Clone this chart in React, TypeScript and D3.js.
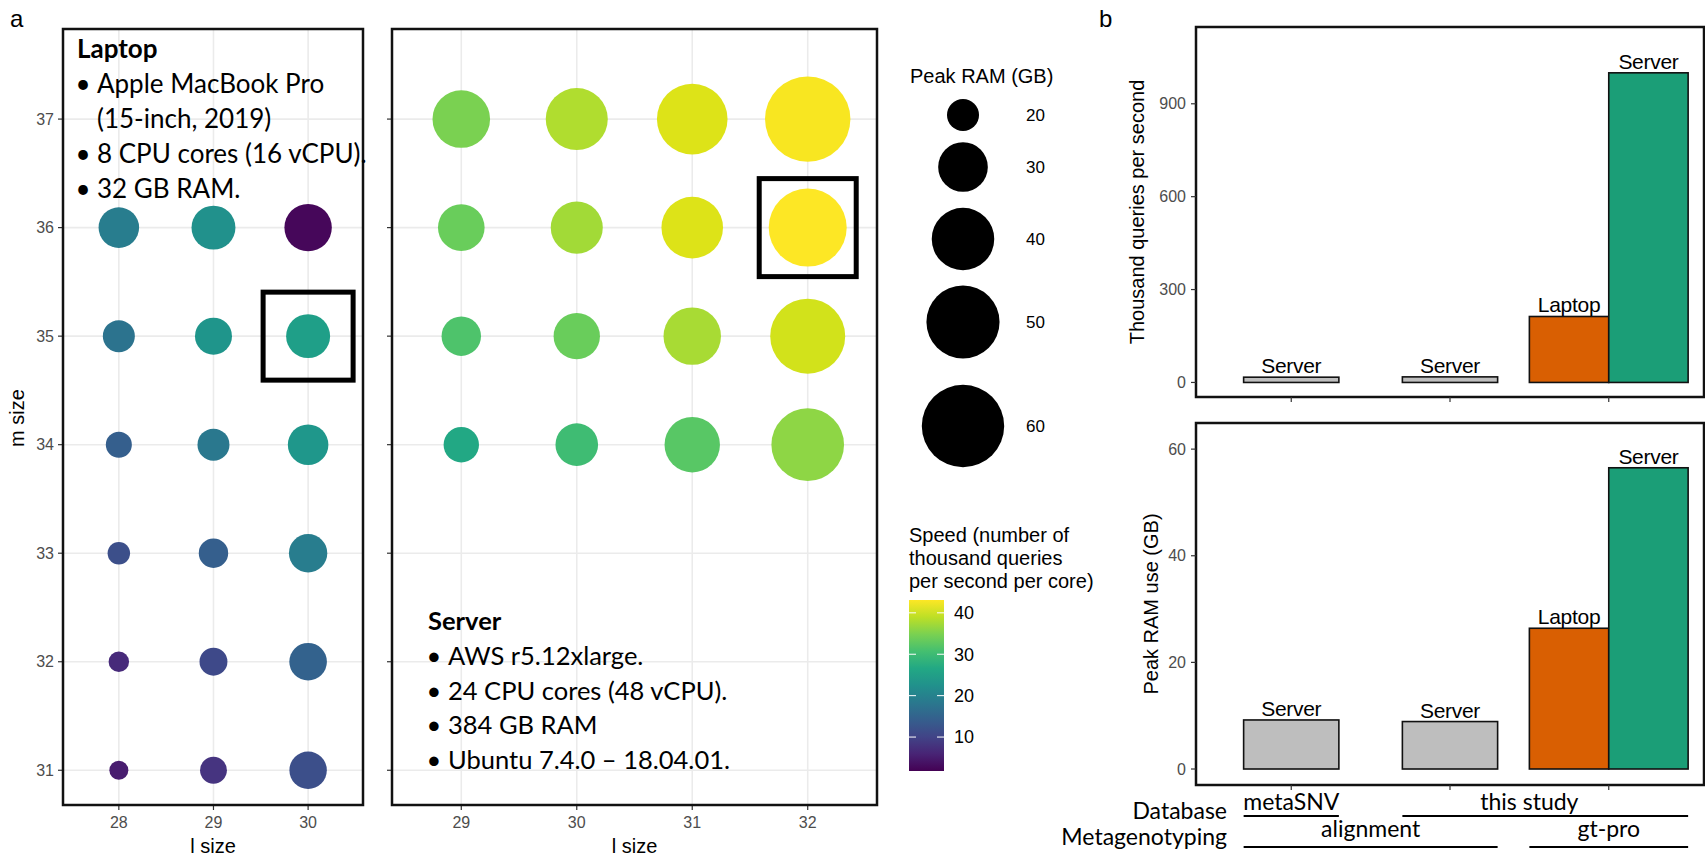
import React from "react";
import * as d3 from "d3";

// panel a: laptop grid (rows = m size, cols = l size)
const laptopL = [28, 29, 30];
const laptopM = [31, 32, 33, 34, 35, 36];
const laptopRam = [
  [15.4, 17.9, 22.6],
  [15.8, 18.3, 22.7],
  [16.4, 18.9, 23.1],
  [17.6, 20.0, 24.3],
  [20.0, 22.4, 26.3],
  [24.3, 26.3, 28.5],
];
const laptopSpeed = [
  [5.1, 8.0, 11.7],
  [6.8, 10.9, 14.6],
  [11.7, 14.2, 19.2],
  [14.2, 18.3, 23.7],
  [17.5, 23.3, 25.0],
  [19.2, 22.5, 2.6],
];

// panel a: server grid
const serverL = [29, 30, 31, 32];
const serverM = [34, 35, 36, 37];
const serverRam = [
  [21.6, 25.5, 34.2, 49.5],
  [23.7, 27.8, 35.8, 51.9],
  [28.0, 31.7, 39.2, 55.1],
  [35.9, 39.6, 47.5, 63.5],
];
const serverSpeed = [
  [26.6, 30.3, 32.4, 36.1],
  [31.5, 33.6, 37.7, 40.2],
  [33.6, 37.3, 41.0, 43.1],
  [34.8, 38.1, 41.0, 42.7],
];

const mTicks = [31, 32, 33, 34, 35, 36, 37];
const ramLegend = [20, 30, 40, 50, 60];
const speedTicks = [10, 20, 30, 40];
const laptopPick = { l: 30, m: 35 };
const serverPick = { l: 32, m: 36 };

const laptopNotes = ["Apple MacBook Pro", "(15-inch, 2019)", "8 CPU cores (16 vCPU).", "32 GB RAM."];
const laptopBullets = [true, false, true, true];
const serverNotes = ["AWS r5.12xlarge.", "24 CPU cores (48 vCPU).", "384 GB RAM", "Ubuntu 7.4.0 \u2013 18.04.01."];

// panel b
const barGroup = [0, 1, 2, 2];
const barMachine = ["Server", "Server", "Laptop", "Server"];
const barQps = [17, 18, 213, 1000];
const barRam = [9.2, 8.9, 26.4, 56.5];
const barKind = ["other", "other", "laptop", "server"];
const qpsTicks = [0, 300, 600, 900];
const ramTicks = [0, 20, 40, 60];
const dbLabels = ["metaSNV", "this study"];
const dbSpan = [[0, 0], [1, 2]];
const methodLabels = ["alignment", "gt-pro"];
const methodSpan = [[0, 1], [2, 2]];

const fillOf: Record<string, string> = { other: "#bebebe", laptop: "#d95f02", server: "#1b9e77" };
const AX = "Liberation Sans, Arial, Helvetica, sans-serif";
const TXT = "Lato, Open Sans, sans-serif";

const speedColor = d3.scaleSequential(d3.interpolateViridis).domain([1.8, 43.1]);
const radius = d3.scaleRadial().domain([20, 60]).range([16, 41.2]);
const yM = d3.scaleLinear().domain([30.68, 37.83]).range([805, 29]);
const xLap = d3.scaleLinear().domain([27.41, 30.58]).range([63, 363]);
const xSrv = d3.scaleLinear().domain([28.4, 32.6]).range([392, 877]);

function Grid({ x, ls, showLabels }: any) {
  const [x0, x1] = x.range();
  const [y1, y0] = yM.range();
  return (
    <g>
      {mTicks.map((m) => (
        <line key={"h" + m} x1={x0} x2={x1} y1={yM(m)} y2={yM(m)} stroke="#ebebeb" strokeWidth={1.6} />
      ))}
      {ls.map((l: number) => (
        <line key={"v" + l} x1={x(l)} x2={x(l)} y1={y0} y2={y1} stroke="#ebebeb" strokeWidth={1.6} />
      ))}
      {mTicks.map((m) => (
        <g key={"yt" + m}>
          <line x1={x0 - 5} x2={x0} y1={yM(m)} y2={yM(m)} stroke="#333" strokeWidth={1.2} />
          {showLabels && (
            <text x={x0 - 9} y={yM(m)} dy="0.35em" textAnchor="end" fontSize={16} fill="#4d4d4d" fontFamily={AX}>
              {m}
            </text>
          )}
        </g>
      ))}
      {ls.map((l: number) => (
        <g key={"xt" + l}>
          <line x1={x(l)} x2={x(l)} y1={y1} y2={y1 + 5} stroke="#333" strokeWidth={1.2} />
          <text x={x(l)} y={828} textAnchor="middle" fontSize={16} fill="#4d4d4d" fontFamily={AX}>
            {l}
          </text>
        </g>
      ))}
      <text x={(x0 + x1) / 2} y={853} textAnchor="middle" fontSize={20} fontFamily={AX}>
        l size
      </text>
    </g>
  );
}

function Dots({ x, ls, ms, ram, speed }: any) {
  return (
    <g>
      {ms.map((m: number, i: number) =>
        ls.map((l: number, j: number) => (
          <circle key={m + "-" + l} cx={x(l)} cy={yM(m)} r={radius(ram[i][j])} fill={speedColor(speed[i][j])} />
        ))
      )}
    </g>
  );
}

function Notes({ title, lines, bullets, x, y, size, gap }: any) {
  return (
    <g fontFamily={TXT} fontSize={size}>
      <text x={x} y={y} fontWeight="bold">{title}</text>
      {lines.map((t: string, i: number) => (
        <g key={t}>
          {bullets[i] && (
            <text x={x + 6} y={y + gap * (i + 1)} textAnchor="middle">{"\u2022"}</text>
          )}
          <text x={x + 20} y={y + gap * (i + 1)}>{t}</text>
        </g>
      ))}
    </g>
  );
}

const xBar = d3.scaleLinear().domain([-0.6, 2.6]).range([1196, 1704]);
const barOffset = [0, 0, -0.25, 0.25];
const barWidth = [0.6, 0.6, 0.5, 0.5];
const groupHalf = [0.3, 0.3, 0.5];

function BarPanel({ values, y, ticks, title, titleX }: any) {
  const [x0, x1] = xBar.range();
  const [yb, yt] = y.range();
  return (
    <g>
      <rect x={x0} y={yt} width={x1 - x0} height={yb - yt} fill="none" stroke="#111" strokeWidth={2.5} />
      {values.map((v: number, i: number) => {
        const c = barGroup[i] + barOffset[i];
        const left = xBar(c - barWidth[i] / 2);
        const right = xBar(c + barWidth[i] / 2);
        return (
          <g key={i}>
            <rect x={left} y={y(v)} width={right - left} height={y(0) - y(v)} fill={fillOf[barKind[i]]} stroke="#111" strokeWidth={1.6} />
            <text x={xBar(c)} y={y(v) - 4} textAnchor="middle" fontSize={21} fontFamily={AX} letterSpacing={-0.3}>
              {barMachine[i]}
            </text>
          </g>
        );
      })}
      {ticks.map((t: number) => (
        <g key={t}>
          <line x1={x0 - 5} x2={x0} y1={y(t)} y2={y(t)} stroke="#333" strokeWidth={1.2} />
          <text x={x0 - 10} y={y(t)} dy="0.35em" textAnchor="end" fontSize={16} fill="#4d4d4d" fontFamily={AX}>
            {t}
          </text>
        </g>
      ))}
      {[0, 1, 2].map((g) => (
        <line key={g} x1={xBar(g)} x2={xBar(g)} y1={yb} y2={yb + 5} stroke="#333" strokeWidth={1.2} />
      ))}
      <text transform={`translate(${titleX},${(yb + yt) / 2}) rotate(-90)`} textAnchor="middle" fontSize={20} fontFamily={AX}>
        {title}
      </text>
    </g>
  );
}

export default function App() {
  const qpsY = d3.scaleLinear().domain([-47, 1148]).range([397, 27]);
  const ramY = d3.scaleLinear().domain([-3, 64.9]).range([785, 423]);
  const gradStops = d3.range(0, 1.0001, 0.1);
  const cbY = d3.scaleLinear().domain([1.8, 43.1]).range([771, 600]);
  const span = (s: number[]) => [xBar(s[0] - groupHalf[s[0]]), xBar(s[1] + groupHalf[s[1]])];
  const mid = (s: number[]) => xBar((s[0] + s[1]) / 2);

  return (
    <div style={{ position: "absolute", left: 0, top: 0 }}>
      <svg width={1705} height={859} style={{ display: "block", background: "#fff" }}>
        <defs>
          <linearGradient id="viridis" x1="0" y1="1" x2="0" y2="0">
            {gradStops.map((t) => (
              <stop key={t} offset={t} stopColor={d3.interpolateViridis(t)} />
            ))}
          </linearGradient>
        </defs>

        <text x={10} y={27} fontSize={24} fontFamily={AX}>a</text>
        <text x={1099} y={27} fontSize={24} fontFamily={AX}>b</text>

        {/* laptop panel */}
        <Grid x={xLap} ls={laptopL} showLabels={true} />
        <Dots x={xLap} ls={laptopL} ms={laptopM} ram={laptopRam} speed={laptopSpeed} />
        <rect x={xLap(laptopPick.l) - 45} y={yM(laptopPick.m) - 44} width={90} height={88} fill="none" stroke="#000" strokeWidth={5} />
        <rect x={63} y={29} width={300} height={776} fill="none" stroke="#111" strokeWidth={2.5} />
        <Notes title="Laptop" lines={laptopNotes} bullets={laptopBullets} x={77} y={58} size={26} gap={35} />
        <text transform="translate(24,418) rotate(-90)" textAnchor="middle" fontSize={20} fontFamily={AX}>m size</text>

        {/* server panel */}
        <Grid x={xSrv} ls={serverL} showLabels={false} />
        <Dots x={xSrv} ls={serverL} ms={serverM} ram={serverRam} speed={serverSpeed} />
        <rect x={xSrv(serverPick.l) - 48.5} y={yM(serverPick.m) - 49} width={97} height={98} fill="none" stroke="#000" strokeWidth={5} />
        <rect x={392} y={29} width={485} height={776} fill="none" stroke="#111" strokeWidth={2.5} />
        <Notes title="Server" lines={serverNotes} bullets={[true, true, true, true]} x={428} y={630} size={25.5} gap={34.8} />

        {/* size legend */}
        <text x={910} y={83} fontSize={20} fontFamily={AX}>Peak RAM (GB)</text>
        {ramLegend.map((v, i) => {
          const cy = [115, 167, 239, 322, 426][i];
          return (
            <g key={v}>
              <circle cx={963} cy={cy} r={radius(v)} fill="#000" />
              <text x={1026} y={cy} dy="0.35em" fontSize={17} fontFamily={AX}>{v}</text>
            </g>
          );
        })}

        {/* colour legend */}
        {["Speed (number of", "thousand queries", "per second per core)"].map((t, i) => (
          <text key={t} x={909} y={542 + 23 * i} fontSize={20} fontFamily={AX}>{t}</text>
        ))}
        <rect x={909} y={600} width={35} height={171} fill="url(#viridis)" />
        {speedTicks.map((t) => (
          <g key={t}>
            <line x1={909} x2={916} y1={cbY(t)} y2={cbY(t)} stroke="#fff" strokeWidth={1} />
            <line x1={937} x2={944} y1={cbY(t)} y2={cbY(t)} stroke="#fff" strokeWidth={1} />
            <text x={954} y={cbY(t)} dy="0.35em" fontSize={18} fontFamily={AX}>{t}</text>
          </g>
        ))}

        {/* panel b */}
        <BarPanel values={barQps} y={qpsY} ticks={qpsTicks} title="Thousand queries per second" titleX={1144} />
        <BarPanel values={barRam} y={ramY} ticks={ramTicks} title="Peak RAM use (GB)" titleX={1158} />

        <g fontFamily={TXT} fontSize={23}>
          <text x={1227} y={819} textAnchor="end">Database</text>
          <text x={1227} y={845} textAnchor="end">Metagenotyping</text>
          {dbLabels.map((t, i) => {
            const [a, b] = span(dbSpan[i]);
            return (
              <g key={t}>
                <text x={mid(dbSpan[i])} y={810} textAnchor="middle">{t}</text>
                <line x1={a} x2={b} y1={816} y2={816} stroke="#000" strokeWidth={2} />
              </g>
            );
          })}
          {methodLabels.map((t, i) => {
            const [a, b] = span(methodSpan[i]);
            return (
              <g key={t}>
                <text x={mid(methodSpan[i])} y={837} textAnchor="middle">{t}</text>
                <line x1={a} x2={b} y1={847} y2={847} stroke="#000" strokeWidth={2} />
              </g>
            );
          })}
        </g>
      </svg>
    </div>
  );
}
